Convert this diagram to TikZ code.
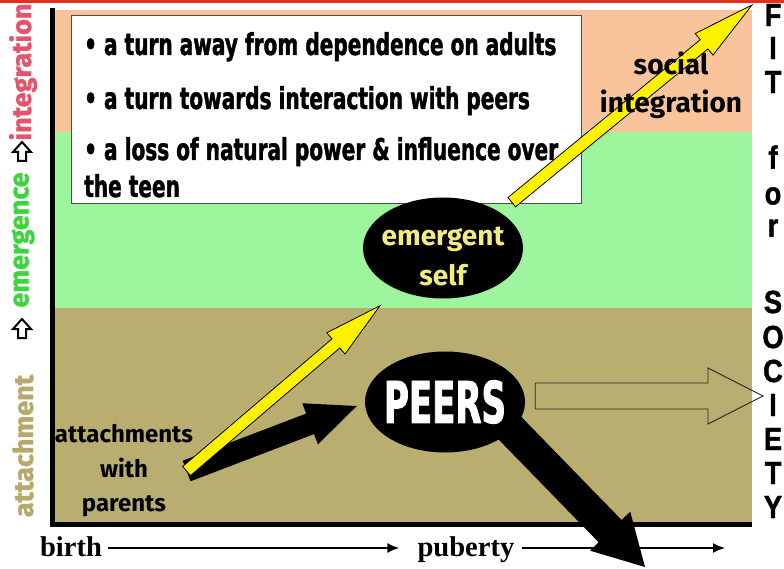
\documentclass[tikz,border=0pt]{standalone}
\usepackage{fontspec}
\setmainfont{Fira Sans}
\newfontfamily\boxfont{DejaVu Sans}[FakeStretch=0.67, FakeBold=1.4]
\newfontfamily\peersfont{DejaVu Sans}[FakeStretch=0.59, FakeBold=1.6]
\newfontfamily\sidefont{Fira Sans}[FakeBold=1.3]
\newfontfamily\timefont{Liberation Serif}
\newfontfamily\fitfont{Liberation Sans}[FakeStretch=0.85, FakeBold=1.4]
\usepackage{tikz}
\usetikzlibrary{calc,arrows.meta,shapes.geometric,positioning}
\definecolor{bandpeach}{HTML}{F9C49C}
\definecolor{bandgreen}{HTML}{9DF59D}
\definecolor{bandolive}{HTML}{BAAD70}
\definecolor{topred}{HTML}{E3301F}
\definecolor{labelred}{HTML}{E4546C}
\definecolor{labelgreen}{HTML}{3ED43E}
\definecolor{labelolive}{HTML}{B6A96B}
\definecolor{selfyellow}{HTML}{F4EC7E}
\pgfdeclarelayer{back}
\pgfdeclarelayer{arrows}
\pgfsetlayers{back,arrows,main}
% fat arrow: style, tail, tip, half shaft, half head, head length
\newcommand{\fatarrow}[6]{%
  \coordinate (fa-base) at ($(#3)!#6!(#2)$);
  \path[#1] ($(#2)!#4!90:(#3)$) -- ($(fa-base)!#4!90:(#3)$)
    -- ($(fa-base)!#5!90:(#3)$) -- (#3)
    -- ($(fa-base)!#5!-90:(#3)$) -- ($(fa-base)!#4!-90:(#3)$)
    -- ($(#2)!#4!-90:(#3)$) -- cycle;
}

\begin{document}
\begin{tikzpicture}[x=1pt, y=-1pt,
  boxline/.style={anchor=base west, inner sep=0pt, font=\boxfont\bfseries\fontsize{30}{36}\selectfont},
  sidelabel/.style={rotate=90, inner sep=0pt, font=\sidefont\bfseries\fontsize{27}{27}\selectfont},
  stepup/.style={fill=white, draw=black, line width=2pt, line join=miter},
  fitletter/.style={inner sep=0pt, font=\fitfont\bfseries\fontsize{32}{32}\selectfont},
  timelabel/.style={anchor=base, inner sep=0pt, font=\timefont\bfseries\fontsize{28.6}{30}\selectfont},
  timeline/.style={line width=1.6pt, -{Latex[length=12pt,width=10pt]}},
  blob/.style={ellipse, fill=black, inner sep=0pt, minimum width=160pt, minimum height=101pt},
  yellowarrow/.style={fill=yellow, draw=black, line width=0.8pt},
  blackarrow/.style={fill=black},
  hollowarrow/.style={draw=black!85, line width=0.9pt}]
  \useasboundingbox (0,0) rectangle (784,569);

  \begin{pgfonlayer}{back}
    % life stages
    \fill[topred] (0,0) rectangle (784,3);
    \fill[bandpeach] (54,10) rectangle (752,132);
    \fill[bandgreen] (54,132) rectangle (752,308);
    \fill[bandolive] (54,308) rectangle (752,522);
    \draw[fill=white, draw=black!70, line width=0.8pt] (71,15) rectangle (581,203);
    \draw[line width=5pt] (52,8) -- (52,524) -- (752,524);
  \end{pgfonlayer}

  % what changes
  \node[boxline] (item-away) at (84,55) {• a turn away from dependence on adults};
  \node[boxline] (item-towards) at (84,109) {• a turn towards interaction with peers};
  \node[boxline] (item-loss) at (84,160) {• a loss of natural power \& influence over};
  \node[boxline] (item-teen) at (84,197) {the teen};

  % time axis
  \node[timelabel] (birth) at (71,556) {birth};
  \node[timelabel] (puberty) at (466,556) {puberty};
  \coordinate (adulthood) at (725,548);
  \draw[timeline, shorten <=6pt, shorten >=18pt] (birth.east |- adulthood) -- (puberty.west |- adulthood);
  \draw[timeline, shorten <=7pt] (puberty.east |- adulthood) -- (adulthood);

  % stages up the side
  \node[sidelabel, labelolive] (attach-label) at (23,446) {attachment};
  \node[sidelabel, labelgreen] (emerge-label) at (23,240) {emergence};
  \node[sidelabel, labelred] (integ-label) at (23,72) {integration};
  \foreach \yy in {152,329}
    \draw[stepup] (22,\yy-10) -- (31,\yy) -- (26,\yy) -- (26,\yy+9)
      -- (18,\yy+9) -- (18,\yy) -- (13,\yy) -- cycle;

  \foreach \ch/\yy in {F/15, I/48, T/82, f/157, o/196, r/228,
      S/302, O/337, C/371, I/405, E/439, T/473, Y/507}
    \node[fitletter] (fit-\yy) at (773,\yy) {\ch};

  % the two selves
  \node[blob] (emergent) at (443,248) {};
  \node[align=center, text=selfyellow, font=\bfseries\fontsize{28}{40}\selectfont]
    (emergent-text) at (443,256) {emergent\\self};
  \node[blob, inner xsep=-5pt, text=white, font=\peersfont\bfseries\fontsize{57.6}{58}\selectfont]
    (peers) at (445,402) {PEERS};
  \node[align=center, font=\bfseries\fontsize{28}{38}\selectfont] (social) at (671,85) {social\\integration};
  \node[align=center, font=\bfseries\fontsize{24}{34.5}\selectfont] (parents) at (124,471) {attachments\\with\\parents};

  \begin{pgfonlayer}{arrows}
    \coordinate (parents-out) at ([xshift=-10pt]parents.east);
    \coordinate (peers-in) at ([xshift=-8pt,yshift=-4pt]peers.west);
    \coordinate (self-in) at ($(emergent.south)+(-63,7)$);
    \coordinate (self-out) at ($(emergent.north east)+(12,-10)$);
    \coordinate (society) at (752,5);
    \coordinate (peers-low) at ($(peers.center)+(57,18)$);
    \coordinate (sink) at (645,567);
    \coordinate (peers-out) at ($(peers.east)+(10,-6)$);
    \coordinate (fit-in) at (763,396);
    \fatarrow{blackarrow}{parents-out}{peers-in}{11pt}{22pt}{50pt}
    \fatarrow{yellowarrow}{parents-out}{self-in}{6pt}{14pt}{58pt}
    \fatarrow{yellowarrow}{self-out}{society}{6pt}{14pt}{62pt}
    \fatarrow{blackarrow}{peers-low}{sink}{16pt}{28pt}{50pt}
    \fatarrow{hollowarrow}{peers-out}{fit-in}{13pt}{28pt}{55pt}
  \end{pgfonlayer}
\end{tikzpicture}
\end{document}
